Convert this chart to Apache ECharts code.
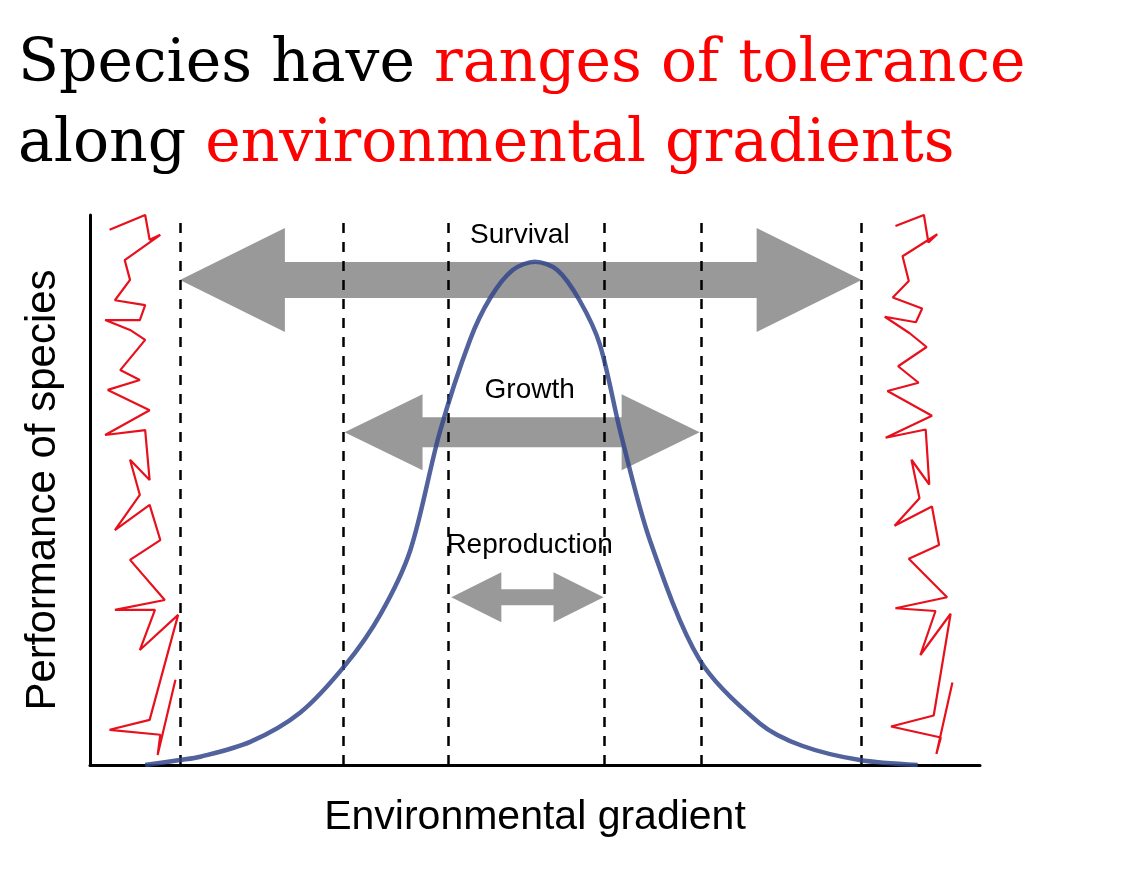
<!DOCTYPE html>
<html><head><meta charset="utf-8">
<script src="https://cdn.jsdelivr.net/npm/echarts@6/dist/echarts.min.js"></script>
<style>html,body{margin:0;padding:0;background:#fff}#c{width:1143px;height:879px}</style>
</head><body><div id="c"></div>
<script>
// Bell curve: performance along the gradient
const curveX = [6.2,10.1,12.4,18,23.6,28.7,32.6,36,39.3,42.7,45,47.5,50,52.5,55,57.3,59.6,62.9,68.5,75.3,80,86.5,93];
const curveY = [0,0.9,1.5,4.2,9.5,18.2,27.3,39.1,60.5,77.3,85,90,91.5,90,84.5,76.4,60.5,40.9,19.1,7.5,3.5,0.9,0];
// Dashed tolerance limits
const limits = [10.1,28.4,40.3,57.8,68.7,86.7];
// Tolerance ranges
const rangeNames = ['Survival','Growth','Reproduction'];
const rangeFrom = [10.1,28.6,40.6];
const rangeTo = [86.7,68.5,57.7];
const rangeLevel = [88.2,60.5,30.5];
const labelX = [48.3,49.4,49.4];
const labelLevel = [96.4,68.2,40];
// Red scribbles (hand-drawn marks beyond tolerance)
const leftScribX = [2.2,6.2,6.7,7.9,3.9,4.5,2.8,6.2,5.6,1.7,4.5,6.2,3.4,5.6,2,6.7,1.7,6.2,6.7,4.5,5.6,2.8,6.7,7.9,4.5,8.4,2.8,7.3,5.6,9.9,6.7,2.2,7.9,7.6,9.6];
const leftScribY = [97.3,100,95.5,96.4,91.8,88.2,84.5,83.6,80.9,80.9,79.1,77.3,71.8,70,68.2,64.5,60,60.9,51.8,55.5,49.1,42.7,47.3,40.9,37.3,30,28.2,28.2,20.9,27.3,8.2,6.4,5.5,1.8,15.5];
const rightScribX = [90.5,93.7,94.2,95.2,91.3,92,90.2,93.5,92.8,89.3,92.1,94,90.8,93.1,89.6,94.6,89.4,93.9,94.3,92.3,93.2,90.4,94.6,95.4,92,96.3,90.5,95,93.3,96.7,94.8,90,95.6,95.1,96.9];
const rightScribY = [98,100,95,96.5,92.5,88,85,83,80.5,81.5,78.5,76,72.5,69.5,68,63.5,59.5,61,51,55.5,48.5,43.5,47,40,37.5,30.5,28.5,28,20,27.5,9,7,5,2,15];

const chart = echarts.init(document.getElementById('c'));
const zip = (a,b)=>a.map((v,i)=>[v,b[i]]);
const sizes = [{body:18,head:52,len:105},{body:15,head:38,len:78},{body:8,head:25,len:50}];
const tf = {fontSize:60,fontFamily:'DejaVu Serif',lineHeight:80};
chart.setOption({
  animation:false,
  graphic:[{type:'text',left:18,top:35,style:{
    rich:{b:Object.assign({fill:'#000'},tf),r:Object.assign({fill:'#ff0000'},tf)},
    text:'{b|Species have }{r|ranges of tolerance}\n{b|along }{r|environmental gradients}'}}],
  grid:{left:90,right:163,top:215,bottom:114,outerBoundsMode:'none',containLabel:false},
  xAxis:{type:'value',min:0,max:100,splitLine:{show:false},axisTick:{show:false},axisLabel:{show:false},
    axisLine:{lineStyle:{color:'#000',width:3}},name:'Environmental gradient',nameLocation:'middle',nameGap:32,
    nameTextStyle:{fontSize:41,color:'#000',fontFamily:'Liberation Sans'}},
  yAxis:{type:'value',min:0,max:100,splitLine:{show:false},axisTick:{show:false},axisLabel:{show:false},
    axisLine:{show:true,lineStyle:{color:'#000',width:3}},name:'Performance of species',nameLocation:'middle',nameGap:26,
    nameTextStyle:{fontSize:42,color:'#000',fontFamily:'Liberation Sans'}},
  series:[
    {type:'line',data:[],markLine:{silent:true,symbol:'none',label:{show:false},
      lineStyle:{color:'#000',type:[10,9],width:2.5},data:limits.map(v=>({xAxis:v}))}},
    {type:'custom',data:rangeNames.map((n,i)=>[rangeFrom[i],rangeTo[i],rangeLevel[i],i]),z:3,
      renderItem:(p,api)=>{
        const a=api.coord([api.value(0),api.value(2)]), b=api.coord([api.value(1),api.value(2)]);
        const s=sizes[api.value(3)], y=a[1];
        const pts=[[a[0],y],[a[0]+s.len,y-s.head],[a[0]+s.len,y-s.body],[b[0]-s.len,y-s.body],[b[0]-s.len,y-s.head],[b[0],y],
          [b[0]-s.len,y+s.head],[b[0]-s.len,y+s.body],[a[0]+s.len,y+s.body],[a[0]+s.len,y+s.head]];
        return {type:'polygon',shape:{points:pts},style:{fill:'rgba(128,128,128,0.8)'}};
      }},
    {type:'custom',data:rangeNames.map((n,i)=>[labelX[i],labelLevel[i],n]),z:4,
      renderItem:(p,api)=>{const c=api.coord([api.value(0),api.value(1)]);
        return {type:'text',x:c[0],y:c[1],style:{text:api.value(2),fill:'#000',fontSize:28,fontFamily:'Liberation Sans',align:'center',verticalAlign:'middle'}};}},
    {type:'line',data:zip(curveX,curveY),smooth:0.3,symbol:'none',lineStyle:{color:'rgba(50,70,140,0.85)',width:4.5},z:5},
    {type:'line',data:zip(leftScribX,leftScribY),symbol:'none',lineStyle:{color:'#e8101c',width:2.2}},
    {type:'line',data:zip(rightScribX,rightScribY),symbol:'none',lineStyle:{color:'#e8101c',width:2.2}}
  ]
});
</script></body></html>
